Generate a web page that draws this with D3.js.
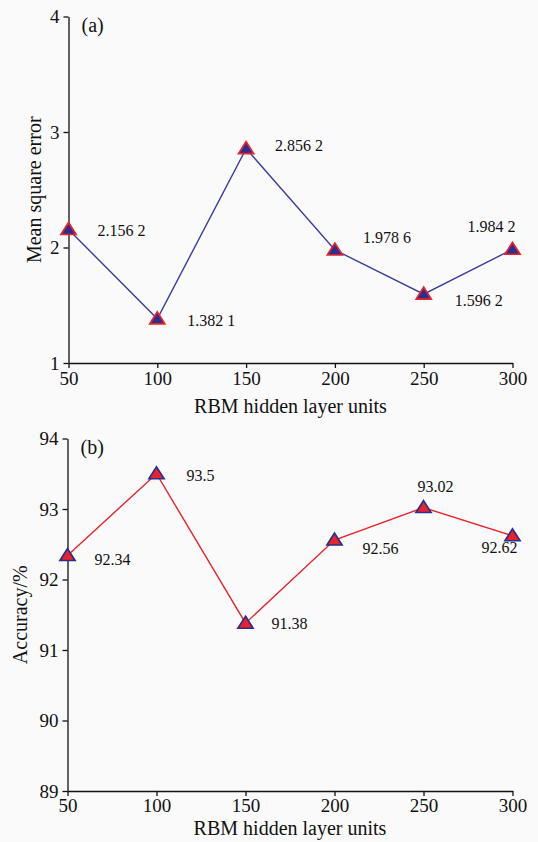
<!DOCTYPE html>
<html>
<head>
<meta charset="utf-8">
<script src="https://cdn.jsdelivr.net/npm/d3@7"></script>
<style>
  body { margin: 0; background: #fafafa; }
  svg { display: block; }
  svg text { font-family: "Liberation Serif", "Times New Roman", serif; }
</style>
</head>
<body>
<div id="main"></div>
<script>
const units = [50, 100, 150, 200, 250, 300];
const mseValues = [2.1562, 1.3821, 2.8562, 1.9786, 1.5962, 1.9842];
const mseLabels = ["2.156 2", "1.382 1", "2.856 2", "1.978 6", "1.596 2", "1.984 2"];
const accValues = [92.34, 93.5, 91.38, 92.56, 93.02, 92.62];
const accLabels = ["92.34", "93.5", "91.38", "92.56", "93.02", "92.62"];
const mseTicks = [1, 2, 3, 4];
const accTicks = [89, 90, 91, 92, 93, 94];

const width = 538;
const height = 842;
const navy = "#2c2f8c";
const red = "#e8232b";

const svg = d3.select("#main")
  .append("svg")
  .attr("width", width)
  .attr("height", height);

// label offsets relative to each point (dx, dy)
const mseOffsets = [[29, 3], [30, 3], [29, -1], [28, -11], [31, 8], [-45, -21]];
const accOffsets = [[27, 6], [30, 4], [26, 2], [28, 10], [-6, -19], [-31, 14]];

const drawPanel = (cfg) => {
  const x = d3.scaleLinear().domain([50, 300]).range([cfg.left, cfg.right]);
  const y = d3.scaleLinear().domain(cfg.domain).range([cfg.bottom, cfg.top]);

  const g = svg.append("g");

  const xAxis = g.append("g")
    .attr("transform", "translate(0," + cfg.bottom + ")")
    .call(d3.axisBottom(x).tickValues(units).tickFormat(d3.format("d")).tickSize(5).tickSizeOuter(0));
  xAxis.selectAll("text")
    .attr("dy", null)
    .attr("y", cfg.xTickY)
    .attr("dominant-baseline", "middle")
    .style("font-size", "19px")
    .attr("fill", "#111");

  const yAxis = g.append("g")
    .attr("transform", "translate(" + cfg.left + ",0)")
    .call(d3.axisLeft(y).tickValues(cfg.ticks).tickFormat(d3.format("d")).tickSize(5).tickSizeOuter(0));
  yAxis.selectAll("text")
    .attr("x", -9)
    .style("font-size", "19px")
    .attr("fill", "#111");

  g.selectAll("g").attr("font-family", null).attr("font-size", null);

  g.selectAll(".domain, .tick line")
    .attr("stroke", "#111")
    .attr("stroke-width", 1.3);

  g.append("text")
    .attr("x", (cfg.left + cfg.right) / 2)
    .attr("y", cfg.bottom + cfg.titleY)
    .attr("text-anchor", "middle")
    .attr("dominant-baseline", "middle")
    .style("font-size", "20px")
    .attr("fill", "#111")
    .text("RBM hidden layer units");

  g.append("text")
    .attr("transform", "translate(" + cfg.yTitleX + "," + (cfg.top + cfg.bottom) / 2 + ") rotate(-90)")
    .attr("text-anchor", "middle")
    .style("font-size", "20px")
    .attr("fill", "#111")
    .text(cfg.yTitle);

  g.append("text")
    .attr("x", cfg.left + 13)
    .attr("y", cfg.top + 11)
    .attr("dominant-baseline", "middle")
    .style("font-size", "20px")
    .attr("fill", "#111")
    .text(cfg.tag);

  const line = d3.line()
    .x((d, i) => x(units[i]))
    .y(d => y(d));

  g.append("path")
    .datum(cfg.values)
    .attr("fill", "none")
    .attr("stroke", cfg.lineColor)
    .attr("stroke-width", 1.4)
    .attr("d", line);

  g.selectAll(".marker")
    .data(cfg.values)
    .enter()
    .append("path")
    .attr("class", "marker")
    .attr("d", d3.symbol(d3.symbolTriangle, 82))
    .attr("transform", (d, i) => "translate(" + x(units[i]) + "," + (y(d) + 1) + ") scale(1.1,1)")
    .attr("fill", cfg.fill)
    .attr("stroke", cfg.stroke)
    .attr("stroke-width", 1.6);

  g.selectAll(".val")
    .data(cfg.values)
    .enter()
    .append("text")
    .attr("class", "val")
    .attr("x", (d, i) => x(units[i]) + cfg.offsets[i][0])
    .attr("y", (d, i) => y(d) + cfg.offsets[i][1])
    .attr("dominant-baseline", "middle")
    .style("font-size", "16px")
    .attr("fill", "#111")
    .text((d, i) => cfg.labels[i]);
};

drawPanel({
  left: 68.5, right: 512.5, top: 16.5, bottom: 363,
  domain: [1, 4], ticks: mseTicks,
  values: mseValues, labels: mseLabels, offsets: mseOffsets,
  yTitle: "Mean square error", yTitleX: 41, tag: "(a)",
  xTickY: 18, titleY: 45,
  lineColor: "#3a3d9c", fill: navy, stroke: red
});

drawPanel({
  left: 67.5, right: 512.5, top: 438.5, bottom: 791,
  domain: [89, 94], ticks: accTicks,
  values: accValues, labels: accLabels, offsets: accOffsets,
  yTitle: "Accuracy/%", yTitleX: 27, tag: "(b)",
  xTickY: 17, titleY: 39,
  lineColor: red, fill: red, stroke: navy
});
</script>
</body>
</html>
